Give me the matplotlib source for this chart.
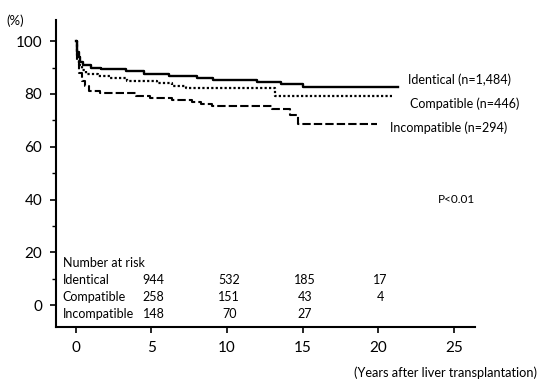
import matplotlib.pyplot as plt

plt.rcParams['font.family'] = ['Lato', 'DejaVu Sans']

# Kaplan-Meier steps (years, survival %)
ident_t = [0, 0.1, 0.2, 0.3, 0.5, 1.0, 1.7, 3.3, 4.5, 6.2, 8.0, 9.1, 12.0, 13.6, 15.0, 21.3]
ident_s = [100, 96, 94, 92, 91, 90, 89.4, 88.6, 87.6, 86.8, 86.0, 85.2, 84.4, 83.6, 82.8, 82.8]

compat_t = [0, 0.1, 0.2, 0.4, 0.7, 1.5, 2.3, 3.4, 5.4, 6.4, 7.3, 13.2, 20.9]
compat_s = [100, 94, 91, 89, 87.5, 86.8, 86.0, 85.0, 84.2, 83.2, 82.3, 79.3, 79.3]

incomp_t = [0, 0.1, 0.2, 0.4, 0.6, 0.9, 1.6, 4.0, 4.9, 6.4, 7.7, 8.3, 9.0, 13.0, 14.2, 14.7, 19.9]
incomp_s = [100, 92, 88, 85, 83, 81, 80.2, 79.4, 78.4, 77.6, 76.8, 76.2, 75.4, 74.2, 72.0, 68.8, 68.8]

groups = ['Identical', 'Compatible', 'Incompatible']
group_labels = ['Identical (n=1,484)', 'Compatible (n=446)', 'Incompatible (n=294)']

# number at risk table
risk_years = [5, 10, 15, 20]
risk_ident = ['944', '532', '185', '17']
risk_compat = ['258', '151', '43', '4']
risk_incomp = ['148', '70', '27', '']

fig = plt.figure(figsize=(5.38, 3.79), dpi=100)
ax = fig.add_axes([0.104, 0.137, 0.779, 0.81])

ax.step(ident_t, ident_s, where='post', color='black', lw=1.7, ls='-')
ax.step(compat_t, compat_s, where='post', color='black', lw=1.6, ls=(0, (1, 1)))
ax.step(incomp_t, incomp_s, where='post', color='black', lw=1.5, ls=(0, (4, 1.5)))

# curve labels
ax.text(22.0, 85.3, group_labels[0], fontsize=9, va='center', ha='left')
ax.text(22.1, 76.2, group_labels[1], fontsize=9, va='center', ha='left')
ax.text(20.8, 67.2, group_labels[2], fontsize=9, va='center', ha='left')
ax.text(25.2, 40, 'P<0.01', fontsize=8.5, va='center', ha='center')

# number at risk
ax.text(-0.85, 15.8, 'Number at risk', fontsize=9, va='center', ha='left')
rows = [risk_ident, risk_compat, risk_incomp]
row_y = [9.4, 3.0, -3.4]
for name, vals, y in zip(groups, rows, row_y):
    ax.text(-0.85, y, name, fontsize=9, va='center', ha='left')
    for yr, v in zip(risk_years, vals):
        ax.text(yr + 0.15, y, v, fontsize=9, va='center', ha='center')

ax.set_xlim(-1.3, 26.4)
ax.set_ylim(-8.3, 108)
ax.set_xticks([0, 5, 10, 15, 20, 25])
ax.set_yticks([0, 20, 40, 60, 80, 100])
ax.set_yticks([10, 30, 50, 70, 90], minor=True)
ax.tick_params(axis='both', labelsize=11, width=1.2, length=4, direction='out')
ax.tick_params(axis='y', which='minor', length=3, width=1.0)
ax.tick_params(axis='y', pad=6)
ax.tick_params(axis='x', pad=6)

for s in ['top', 'right']:
    ax.spines[s].set_visible(False)
for s in ['left', 'bottom']:
    ax.spines[s].set_linewidth(1.5)

fig.text(0.012, 0.945, '(%)', fontsize=9.5, ha='left', va='center')
fig.text(0.998, 0.016, '(Years after liver transplantation)', fontsize=9.2, ha='right', va='center')

fig.savefig('out.png', dpi=100)
